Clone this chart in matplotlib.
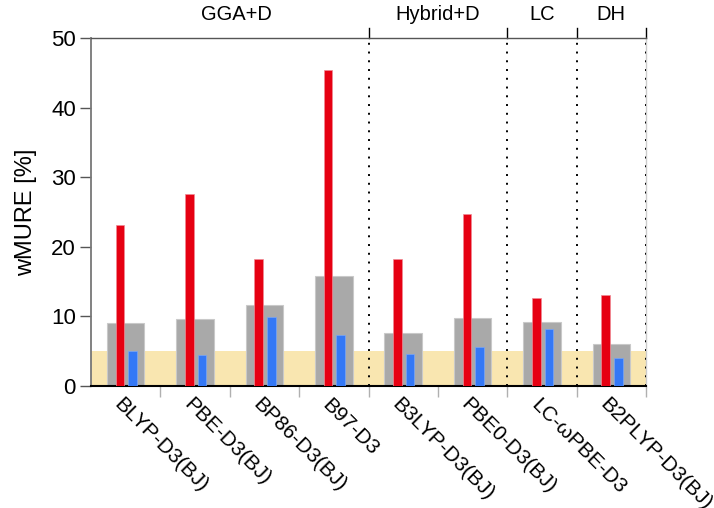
import numpy as np
import matplotlib.pyplot as plt

plt.rcParams['font.family'] = ['Liberation Sans', 'DejaVu Sans']

methods = ['BLYP-D3(BJ)', 'PBE-D3(BJ)', 'BP86-D3(BJ)', 'B97-D3',
           'B3LYP-D3(BJ)', 'PBE0-D3(BJ)', 'LC-\u03c9PBE-D3', 'B2PLYP-D3(BJ)']
grey_vals = [9.0, 9.6, 11.7, 15.8, 7.6, 9.8, 9.15, 6.1]
red_vals = [23.2, 27.6, 18.3, 45.4, 18.2, 24.7, 12.7, 13.1]
blue_vals = [5.0, 4.45, 9.9, 7.3, 4.6, 5.55, 8.15, 4.1]
groups = ['GGA+D', 'Hybrid+D', 'LC', 'DH']
group_edges = [0, 4, 6, 7, 8]
threshold = 5.0

fig = plt.figure(figsize=(7.14, 5.08), dpi=100)
ax = fig.add_axes([0.1275, 0.240, 0.7773, 0.685])

x = np.arange(len(methods)) + 0.5
n = len(methods)

# acceptance band
ax.axhspan(0, threshold, color='#f9e6b0', zorder=0, lw=0)

ax.bar(x, grey_vals, width=0.54, color='#a9a9a9', edgecolor='#c9c9c9',
       linewidth=0.8, zorder=2)
ax.bar(x - 0.082, red_vals, width=0.125, color='#e60012', edgecolor='#f08a94',
       linewidth=0.5, zorder=3)
ax.bar(x + 0.10, blue_vals, width=0.125, color='#3478f6', edgecolor='#7aa6f7',
       linewidth=0.5, zorder=3)

ax.set_xlim(0, n)
ax.set_ylim(0, 50)

# group separators
for e in group_edges[1:]:
    ax.axvline(e, color='black', linestyle=(0, (1, 3.5)), lw=1.4, zorder=4)
    ax.plot([e, e], [1.0, 1.03], transform=ax.get_xaxis_transform(),
            color='black', lw=1.0, clip_on=False)

for g, a, b in zip(groups, group_edges[:-1], group_edges[1:]):
    ax.text((a + b) / 2 + (0.1 if a == 0 else 0), 1.04, g,
            transform=ax.get_xaxis_transform(),
            ha='center', va='bottom', fontsize=14.5)

ax.set_xticks(np.arange(1, n + 1))
ax.set_xticklabels([])
ax.tick_params(axis='x', length=8, width=1, color='#b0b0b0', direction='out')
for xi, lab in zip(x, methods):
    ax.text(xi - 0.12, -0.045, lab, transform=ax.get_xaxis_transform(),
            rotation=-45, rotation_mode='anchor', ha='left', va='center',
            fontsize=15)

ax.set_yticks([0, 10, 20, 30, 40, 50])
ax.tick_params(axis='y', length=8, width=1, color='#555555', labelsize=16,
               pad=3)
ax.set_ylabel('wMURE [%]', fontsize=17, labelpad=10)

ax.spines['left'].set_color('#777777')
ax.spines['left'].set_linewidth(1.3)
ax.spines['top'].set_color('#555555')
ax.spines['top'].set_linewidth(1.0)
ax.spines['bottom'].set_color('black')
ax.spines['bottom'].set_linewidth(1.5)
ax.spines['right'].set_color('#cccccc')
ax.spines['right'].set_linewidth(1.0)

fig.savefig('out.png', dpi=100)
